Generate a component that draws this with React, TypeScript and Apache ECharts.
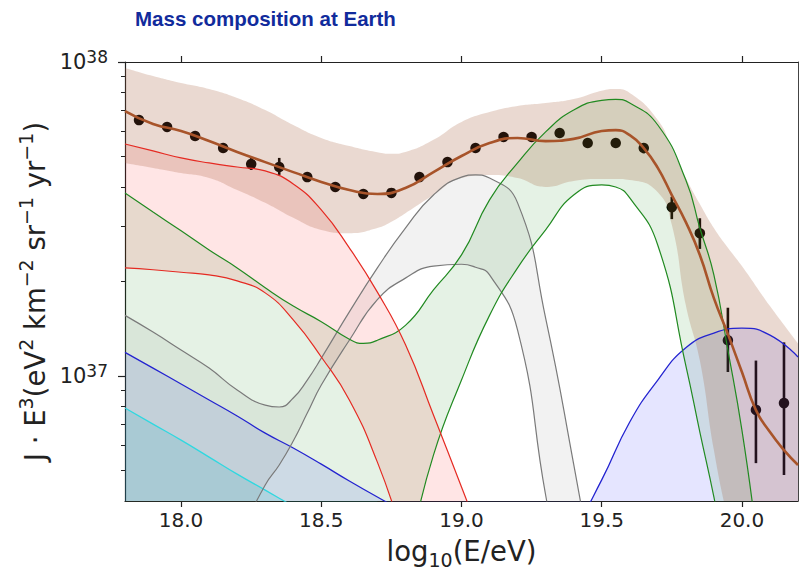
import React, { useEffect, useRef } from 'react';
import * as echarts from 'echarts';

// All flux values are J·E³ in units of 1e37 eV² km⁻² sr⁻¹ yr⁻¹
const UNIT_EXP = 37;

const xTicks = [18.0, 18.5, 19.0, 19.5, 20.0];
const yMajorTicks = [37, 38];
const yMinorMultipliers = [5, 6, 7, 8, 9, 20, 30, 40, 50, 60, 70, 80, 90];

// data points
const pointX = [17.85, 17.95, 18.05, 18.15, 18.25, 18.35, 18.45, 18.55, 18.65, 18.75, 18.85, 18.95, 19.05, 19.15, 19.25, 19.35, 19.45, 19.55, 19.65, 19.75, 19.85, 19.95, 20.05, 20.15];
const pointY = [6.53, 6.21, 5.81, 5.32, 4.73, 4.63, 4.30, 4.00, 3.80, 3.83, 4.30, 4.80, 5.32, 5.77, 5.77, 5.94, 5.52, 5.52, 5.32, 3.45, 2.85, 1.30, 0.780, 0.820];
const errX = [18.25, 18.35, 19.65, 19.75, 19.85, 19.95, 20.05, 20.15];
const errLo = [4.53, 4.37, 5.12, 3.16, 2.54, 1.03, 0.528, 0.484];
const errHi = [4.95, 4.95, 5.52, 3.72, 3.18, 1.65, 1.12, 1.28];

// total fit
const fitX = [17.8, 17.9, 18.0, 18.1, 18.2, 18.3, 18.4, 18.5, 18.6, 18.7, 18.8, 18.9, 19.0, 19.1, 19.2, 19.3, 19.4, 19.5, 19.55, 19.6, 19.65, 19.7, 19.75, 19.8, 19.85, 19.9, 19.95, 20.0, 20.05, 20.1, 20.15, 20.2];
const fitY = [6.98, 6.35, 6.03, 5.60, 5.17, 4.80, 4.46, 4.15, 3.91, 3.80, 3.97, 4.46, 5.02, 5.52, 5.73, 5.60, 5.69, 6.03, 6.07, 5.85, 5.32, 4.60, 3.77, 3.09, 2.43, 1.77, 1.36, 1.03, 0.779, 0.663, 0.581, 0.521];

// total fit uncertainty band
const bandX = [17.8, 17.9, 18.0, 18.1, 18.2, 18.3, 18.4, 18.5, 18.6, 18.7, 18.75, 18.8, 18.9, 19.0, 19.1, 19.2, 19.3, 19.4, 19.5, 19.55, 19.6, 19.7, 19.75, 19.8, 19.85, 19.9, 19.95, 20.0, 20.1, 20.2];
const bandHi = [9.57, 9.02, 8.57, 8.20, 7.68, 7.03, 6.30, 5.73, 5.40, 5.16, 5.10, 5.17, 5.65, 6.44, 6.93, 7.24, 7.40, 7.62, 8.10, 8.20, 7.97, 6.54, 5.32, 4.27, 3.53, 2.96, 2.56, 2.24, 1.67, 1.27];
const bandLo = [4.77, 4.60, 4.43, 4.27, 3.91, 3.56, 3.19, 2.92, 2.85, 2.96, 3.10, 3.30, 3.77, 4.27, 4.37, 4.27, 4.00, 4.18, 4.24, 4.24, 4.21, 3.85, 3.03, 1.68, 1.12, 0.581, 0.348, 0.224, 0.125, 0.080];

// red component
const redX = [17.8, 17.9, 18.0, 18.1, 18.2, 18.3, 18.4, 18.5, 18.6, 18.7, 18.8, 18.9, 19.0, 19.1, 19.2];
const redHi = [5.48, 5.21, 4.95, 4.77, 4.63, 4.50, 4.09, 3.38, 2.56, 1.85, 1.26, 0.751, 0.443, 0.259, 0.144];
const redLo = [2.21, 2.18, 2.14, 2.10, 2.01, 1.84, 1.51, 1.15, 0.839, 0.532, 0.300, 0.180, 0.108, 0.064, 0.038];

// green component
const greenX = [17.8, 17.9, 18.0, 18.1, 18.2, 18.3, 18.4, 18.5, 18.6, 18.65, 18.7, 18.8, 18.9, 19.0, 19.1, 19.2, 19.3, 19.4, 19.5, 19.55, 19.6, 19.7, 19.8, 19.85, 19.9, 19.95, 20.0, 20.05, 20.1, 20.2];
const greenHi = [3.83, 3.33, 2.90, 2.52, 2.21, 1.91, 1.67, 1.49, 1.31, 1.27, 1.30, 1.45, 1.88, 2.43, 3.64, 4.77, 5.99, 7.03, 7.55, 7.60, 7.40, 6.30, 4.21, 2.96, 2.10, 1.21, 0.673, 0.323, 0.144, 0.045];
const greenLo = [0.03, 0.03, 0.03, 0.03, 0.04, 0.05, 0.06, 0.08, 0.10, 0.12, 0.14, 0.259, 0.560, 0.971, 1.56, 2.21, 2.92, 3.77, 4.06, 4.00, 3.69, 2.61, 1.08, 0.663, 0.412, 0.241, 0.134, 0.080, 0.045, 0.021];

// gray component
const grayX = [17.8, 17.9, 18.0, 18.1, 18.2, 18.3, 18.35, 18.4, 18.45, 18.5, 18.6, 18.7, 18.8, 18.9, 19.0, 19.05, 19.1, 19.2, 19.3, 19.4, 19.5, 19.6];
const grayHi = [1.56, 1.38, 1.21, 1.06, 0.903, 0.808, 0.797, 0.851, 0.971, 1.14, 1.60, 2.21, 2.96, 3.77, 4.30, 4.37, 4.27, 3.56, 1.53, 0.524, 0.167, 0.052];
const grayLo = [0.05, 0.08, 0.12, 0.20, 0.300, 0.450, 0.521, 0.621, 0.762, 0.936, 1.30, 1.75, 2.05, 2.24, 2.27, 2.22, 2.10, 1.40, 0.418, 0.144, 0.052, 0.021];

// blue component
const blueX = [17.8, 17.9, 18.0, 18.1, 18.2, 18.3, 18.4, 18.5, 18.6, 18.7, 18.8, 18.9, 19.0, 19.1, 19.2, 19.3, 19.4, 19.5, 19.6, 19.7, 19.8, 19.9, 20.0, 20.1, 20.2];
const blueY = [1.19, 1.06, 0.943, 0.839, 0.746, 0.658, 0.590, 0.524, 0.463, 0.412, 0.366, 0.32, 0.28, 0.255, 0.24, 0.25, 0.323, 0.467, 0.714, 0.971, 1.23, 1.37, 1.42, 1.35, 1.15];

// cyan component
const cyanX = [17.8, 17.9, 18.0, 18.1, 18.2, 18.3, 18.4, 18.5, 18.6, 18.7];
const cyanY = [0.791, 0.703, 0.625, 0.552, 0.487, 0.433, 0.385, 0.343, 0.30, 0.27];

const Y_MIN_FLUX = 0.4;
const Y_MAX_FLUX = 10;

const FONT = "'DejaVu Sans', sans-serif";
const AXIS_COLOR = '#222';
const SMOOTH = 0.5;

const lg = (v: number) => UNIT_EXP + Math.log10(v);

// data given as [y, x] with encode so that the stacked dimension is the y value
function bandSeries(id: string, xs: number[], lo: number[], hi: number[], line: string, fill: string, lineW: number, lineOpacity: number) {
  return [
    {
      type: 'line', name: id + 'Lo', stack: id, silent: true,
      data: xs.map((x, i) => [lg(lo[i]), x]),
      encode: { x: 1, y: 0 },
      smooth: SMOOTH, symbol: 'none',
      lineStyle: { color: line, width: lineW, opacity: lineOpacity },
    },
    {
      type: 'line', name: id + 'Hi', stack: id, silent: true,
      data: xs.map((x, i) => [lg(hi[i]) - lg(lo[i]), x]),
      encode: { x: 1, y: 0 },
      smooth: SMOOTH, symbol: 'none',
      lineStyle: { color: line, width: lineW, opacity: lineOpacity },
      areaStyle: { color: fill, opacity: 1 },
    },
  ];
}

function singleArea(id: string, xs: number[], ys: number[], line: string, fill: string) {
  return {
    type: 'line', name: id, silent: true,
    data: xs.map((x, i) => [x, lg(ys[i])]),
    smooth: SMOOTH, symbol: 'none',
    lineStyle: { color: line, width: 1.3 },
    areaStyle: { color: fill, opacity: 1, origin: 'start' },
  };
}

export default function App() {
  const ref = useRef<HTMLDivElement>(null);
  useEffect(() => {
    document.body.style.margin = '0';
    if (!ref.current) return;
    const chart = echarts.init(ref.current, undefined, { renderer: 'svg' });
    const yMin = lg(Y_MIN_FLUX);
    const yMax = lg(Y_MAX_FLUX);
    const minorVals = yMinorMultipliers.map((m) => 36 + Math.log10(m));

    const supRich = {
      n: { fontSize: 27.5, fontFamily: FONT, color: AXIS_COLOR, lineHeight: 36 },
      s: { fontSize: 19, fontFamily: FONT, color: AXIS_COLOR, lineHeight: 16, verticalAlign: 'top' },
      sub: { fontSize: 19, fontFamily: FONT, color: AXIS_COLOR, lineHeight: 16, verticalAlign: 'bottom' },
    };

    const option: any = {
      animation: false,
      backgroundColor: '#fff',
      title: {
        text: 'Mass composition at Earth',
        left: 130, top: 3,
        textStyle: { fontFamily: "'Liberation Sans', Arial, sans-serif", fontWeight: 'bold', fontSize: 20.5, color: '#112b9c' },
      },
      grid: { left: 125, right: 1, top: 62, bottom: 77 },
      xAxis: [
        {
          type: 'value', min: 17.8, max: 20.2, position: 'bottom',
          axisLine: { show: true, onZero: false, lineStyle: { color: AXIS_COLOR, width: 1.2 } },
          axisTick: { show: true, customValues: xTicks, length: 6, lineStyle: { color: AXIS_COLOR, width: 1.2 } },
          axisLabel: { customValues: xTicks, formatter: (v: number) => v.toFixed(1), fontSize: 20, fontFamily: FONT, color: AXIS_COLOR, margin: 9 },
          splitLine: { show: false },
          name: '{n|log}{sub|10}{n|(E/eV)}',
          nameLocation: 'middle', nameGap: 32,
          nameTextStyle: { rich: supRich },
        },
        {
          type: 'value', min: 17.8, max: 20.2, position: 'top',
          axisLine: { show: true, onZero: false, lineStyle: { color: AXIS_COLOR, width: 1.2 } },
          axisTick: { show: true, customValues: xTicks, length: 6, lineStyle: { color: AXIS_COLOR, width: 1.2 } },
          axisLabel: { show: false },
          splitLine: { show: false },
        },
      ],
      yAxis: [
        {
          type: 'value', min: yMin, max: yMax, position: 'left',
          axisLine: { show: true, onZero: false, lineStyle: { color: AXIS_COLOR, width: 1.2 } },
          axisTick: { show: true, customValues: yMajorTicks, length: 7, lineStyle: { color: AXIS_COLOR, width: 1.2 } },
          axisLabel: {
            customValues: yMajorTicks,
            formatter: (v: number) => `{b|10}{s|${Math.round(v)}}`,
            margin: 17,
            rich: {
              b: { fontSize: 21, fontFamily: FONT, color: AXIS_COLOR, lineHeight: 28 },
              s: { fontSize: 17, fontFamily: FONT, color: AXIS_COLOR, lineHeight: 14, verticalAlign: 'top' },
            },
          },
          splitLine: { show: false },
          name: '{n|J · E}{s|3}{n|(eV}{s|2}{n| km}{s|−2}{n| sr}{s|−1}{n| yr}{s|−1}{n|)}',
          nameLocation: 'middle', nameGap: 72,
          nameTextStyle: { rich: supRich, padding: [0, 20, 0, 0] },
        },
        {
          type: 'value', min: yMin, max: yMax, position: 'left',
          axisLine: { show: false, onZero: false },
          axisTick: { show: true, customValues: minorVals, length: 4, lineStyle: { color: AXIS_COLOR, width: 1 } },
          axisLabel: { show: false },
          splitLine: { show: false },
        },
        {
          type: 'value', min: yMin, max: yMax, position: 'right',
          axisLine: { show: true, onZero: false, lineStyle: { color: '#444', width: 1 } },
          axisTick: { show: false },
          axisLabel: { show: false },
          splitLine: { show: false },
        },
      ],
      series: [
        singleArea('cyan', cyanX, cyanY, '#30d8e0', 'rgba(0,190,210,0.14)'),
        singleArea('blue', blueX, blueY, '#2424d0', 'rgba(0,0,255,0.10)'),
        ...bandSeries('gray', grayX, grayLo, grayHi, '#7a7a7a', 'rgba(128,128,128,0.10)', 1.2, 1),
        ...bandSeries('green', greenX, greenLo, greenHi, '#218a21', 'rgba(0,128,0,0.10)', 1.2, 1),
        ...bandSeries('red', redX, redLo, redHi, '#e52a22', 'rgba(255,0,0,0.10)', 1.2, 1),
        ...bandSeries('total', bandX, bandLo, bandHi, '#a0522d', 'rgba(160,82,45,0.22)', 0, 0),
        {
          type: 'line', name: 'fit', silent: true,
          data: fitX.map((x, i) => [x, lg(fitY[i])]),
          smooth: SMOOTH, symbol: 'none',
          lineStyle: { color: '#a8542a', width: 2.6 },
        },
        {
          type: 'custom', name: 'errors', silent: true,
          data: errX.map((x, i) => [x, lg(errLo[i]), lg(errHi[i])]),
          encode: { x: 0, y: [1, 2] },
          renderItem: (_p: any, api: any) => {
            const x = api.value(0);
            const a = api.coord([x, api.value(1)]);
            const b = api.coord([x, api.value(2)]);
            return { type: 'line', shape: { x1: a[0], y1: a[1], x2: b[0], y2: b[1] }, style: { stroke: '#000', lineWidth: 2.6 } };
          },
        },
        {
          type: 'scatter', name: 'data', silent: true,
          data: pointX.map((x, i) => [x, lg(pointY[i])]),
          symbolSize: 10.5,
          itemStyle: { color: '#000', opacity: 1 },
        },
      ],
    };
    chart.setOption(option);
    return () => chart.dispose();
  }, []);
  return <div ref={ref} style={{ width: 799, height: 578 }} />;
}
